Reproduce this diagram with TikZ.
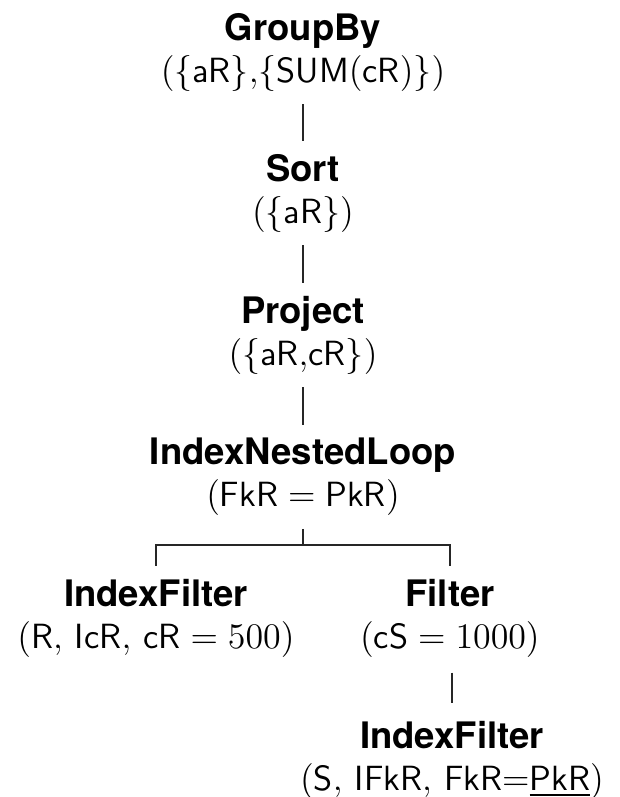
\documentclass[tikz,border=0pt]{standalone}
\usepackage{amsmath}
\usepackage{fontspec}
\usepackage{xcolor}
\usepackage{tikz}
\usetikzlibrary{positioning,calc}

\newfontfamily\headfont{TeX Gyre Heros}
\newcommand{\optitle}[1]{{\headfont\bfseries\fontsize{14.6}{16.8}\selectfont #1}}

\begin{document}
\begin{tikzpicture}[x=40pt,y=40pt,
    op/.style={align=center, inner sep=0pt,
      font=\fontsize{14}{16.8}\selectfont},
    edge/.style={line width=0.9pt, black!85}]

  \useasboundingbox (0,0) rectangle (6.19,-7.97);

  % Main chain
  \node[op] (gby) at (3.03,-0.52)
    {\optitle{GroupBy}\\ $(\{\mathsf{aR}\}{,}\{\mathsf{SUM}(\mathsf{cR})\})$};
  \node[op] (srt) at (3.03,-1.93)
    {\optitle{Sort}\\ $(\{\mathsf{aR}\})$};
  \node[op] (prj) at (3.03,-3.35)
    {\optitle{Project}\\ $(\{\mathsf{aR}{,}\mathsf{cR}\})$};
  \node[op] (inl) at (3.03,-4.77)
    {\optitle{IndexNestedLoop}\\ $(\mathsf{FkR} = \mathsf{PkR})$};

  % Join inputs
  \node[op] (ixr) at (1.56,-6.18)
    {\optitle{IndexFilter}\\ $(\mathsf{R},\,\mathsf{IcR},\,\mathsf{cR} = 500)$};
  \node[op] (flt) at (4.50,-6.18)
    {\optitle{Filter}\\ $(\mathsf{cS} = 1000)$};
  \node[op] (ixs) at (4.52,-7.60)
    {\optitle{IndexFilter}\\ $(\mathsf{S},\,\mathsf{IFkR},\,\mathsf{FkR}{=}{\color{black!55}\underline{\color{black}\mathsf{PkR}}})$};

  % Edges
  \draw[edge, shorten <=5pt, shorten >=5pt] (gby) -- (srt);
  \draw[edge, shorten <=5pt, shorten >=5pt] (srt) -- (prj);
  \draw[edge, shorten <=5pt, shorten >=5pt] (prj) -- (inl);

  \coordinate (fork) at (3.03,-5.45);
  \draw[edge, shorten <=5pt] (inl) -- (fork);
  \draw[edge, shorten <=5pt, shorten >=5pt] (ixr.north) |- (fork) -| (flt.north);
  \draw[edge, shorten <=6pt, shorten >=7pt] (flt.south -| ixs.north) -- (ixs.north);

\end{tikzpicture}
\end{document}
